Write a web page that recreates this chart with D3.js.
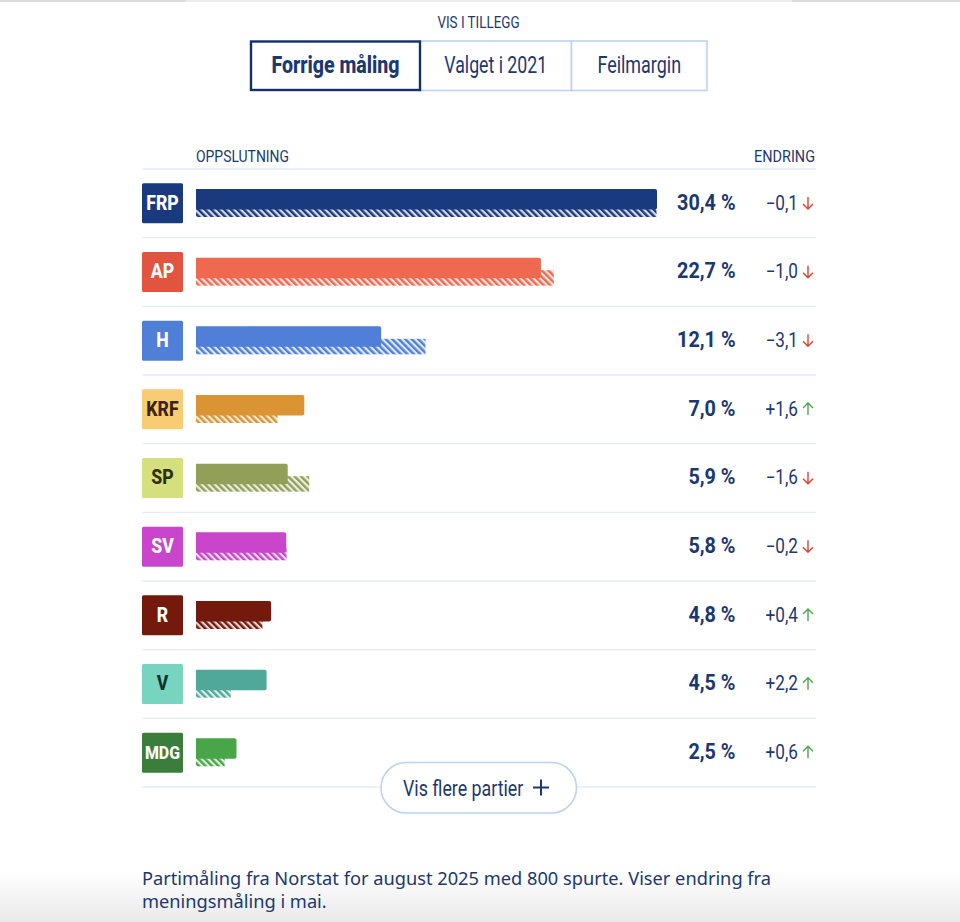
<!DOCTYPE html>
<html><head><meta charset="utf-8">
<script src="https://cdn.jsdelivr.net/npm/d3@7"></script>
<style>html,body{margin:0;padding:0;background:#fff}svg{display:block}</style></head>
<body><svg id="c" width="960" height="922"></svg>
<script>
const parties=["FRP","AP","H","KRF","SP","SV","R","V","MDG"];
const current=[30.4,22.7,12.1,7.0,5.9,5.8,4.8,4.5,2.5];
const previous=[30.5,23.7,15.2,5.4,7.5,6.0,4.4,2.3,1.9];
const changes=[-0.1,-1.0,-3.1,1.6,-1.6,-0.2,0.4,2.2,0.6];
const barColors=["#1a3a80","#ee694f","#4f7fd6","#db9433","#929f59","#c845cc","#731a0d","#4fa899","#48a548"];
const badgeColors=["#1a3a80","#e2543f","#4f7fd6","#f8cb75","#d5df7e","#c845cc","#731a0d","#76d4bf","#3b7d3a"];
const badgeText=["#fff","#fff","#fff","#3a2508","#2e3010","#fff","#fff","#12332c","#fff"];
const tabs=["Forrige måling","Valget i 2021","Feilmargin"];
const tabWidthScale=[.85,.77,.78];
const navy="#1b3870", rule="#e2ecfb", edge="#bcd3f3";
const condensed="Roboto, sans-serif";

const svg=d3.select("#c");
const defs=svg.append("defs");
const grad=defs.append("linearGradient").attr("id","fade").attr("x1",0).attr("x2",0).attr("y1",0).attr("y2",1);
grad.append("stop").attr("offset",0).attr("stop-color","#fff");
grad.append("stop").attr("offset",1).attr("stop-color","#e9e9e9");
svg.append("rect").attr("x",0).attr("y",872).attr("width",960).attr("height",50).attr("fill","url(#fade)");
svg.append("rect").attr("x",0).attr("y",0).attr("width",960).attr("height",2).attr("fill","#dcdcdc");
svg.append("rect").attr("x",186).attr("y",0).attr("width",606).attr("height",2).attr("fill","#ececec");

parties.forEach((p,i)=>{
  const pat=defs.append("pattern").attr("id","h"+p).attr("patternUnits","userSpaceOnUse")
    .attr("width",4.6).attr("height",4.6).attr("patternTransform","rotate(-45)");
  pat.append("rect").attr("width",4.6).attr("height",4.6).attr("fill",barColors[i]).attr("opacity",.18);
  pat.append("rect").attr("width",2.4).attr("height",4.6).attr("fill",barColors[i]);
});

function label(g,x,y,str,o){
  return g.append("text").attr("transform",`translate(${x},${y}) scale(${o.sx||0.84},1)`)
    .attr("text-anchor",o.anchor||"start").attr("font-family",o.font||condensed)
    .attr("font-size",o.size).attr("font-weight",o.weight||400).attr("fill",o.fill||navy).text(str);
}

// Tabs
const tabG=svg.append("g");
const tabEdges=[250,420,571.5,707];
tabs.forEach((t,i)=>{
  if(i>0) tabG.append("rect").attr("x",tabEdges[i]).attr("y",41).attr("width",tabEdges[i+1]-tabEdges[i]).attr("height",49.5)
    .attr("fill","#fff").attr("stroke",edge).attr("stroke-width",1.6);
});
tabG.append("rect").attr("x",tabEdges[0]+1).attr("y",41.5).attr("width",tabEdges[1]-tabEdges[0]-1).attr("height",48.5)
  .attr("fill","#fff").attr("stroke","#12306c").attr("stroke-width",2.4);
tabs.forEach((t,i)=>label(tabG,(tabEdges[i]+tabEdges[i+1])/2+(i==0?.5:0),73,t,{anchor:"middle",size:23,weight:i==0?800:400,sx:tabWidthScale[i]}));
label(svg,478.5,28,"VIS I TILLEGG",{anchor:"middle",size:17,sx:.79});

// Scales: the drawn bars keep a small minimum length at zero
const xCurrent=d3.scaleLinear().domain([0,30.4]).range([198.8,657]);
const xPrevious=d3.scaleLinear().domain([0,30.5]).range([196,656.5]);
const row=d3.scaleBand().domain(parties).range([169,787]);

label(svg,196,162,"OPPSLUTNING",{size:17,sx:.82});
label(svg,815,162,"ENDRING",{size:17,sx:.85,anchor:"end"});

svg.append("line").attr("x1",142).attr("x2",816).attr("y1",169).attr("y2",169).attr("stroke",rule).attr("stroke-width",1.4);

const fmt=v=>d3.format(".1f")(Math.abs(v)).replace(".",",");
const rows=svg.selectAll("g.row").data(parties).join("g").attr("class","row")
  .attr("transform",d=>`translate(0,${row(d)})`);

rows.append("line").attr("x1",142).attr("x2",816).attr("y1",row.step()).attr("y2",row.step()).attr("stroke",rule).attr("stroke-width",1.4);
rows.append("rect").attr("x",142).attr("y",14.3).attr("width",41).attr("height",40).attr("rx",1.5)
  .attr("fill",(d,i)=>badgeColors[i]);
rows.each(function(d,i){
  const g=d3.select(this);
  label(g,162.5,40.5,d,{anchor:"middle",size:d=="MDG"?19:21,weight:800,fill:badgeText[i],sx:.84});
  // previous measurement
  g.append("rect").attr("x",xPrevious(0)).attr("y",32.5).attr("width",xPrevious(previous[i])-xPrevious(0)).attr("height",15.5).attr("fill",`url(#h${d})`);
  // current measurement
  g.append("path").attr("fill",barColors[i]).attr("d",()=>{
    const l=xPrevious(0),r=xCurrent(current[i]),y0=20,y1=40.5,c=2;
    return `M${l},${y0}H${r-c}Q${r},${y0} ${r},${y0+c}V${y1-c}Q${r},${y1} ${r-c},${y1}H${l}Z`;
  });
  label(g,735.5,40.5,fmt(current[i])+" %",{anchor:"end",size:22,weight:700,sx:.9});
  label(g,798,40.5,(changes[i]<0?"\u2212":"+")+fmt(changes[i]),{anchor:"end",size:19.5,sx:.88});
  const up=changes[i]>0, col=up?"#4aa84f":"#e2402f", ax=808, top=28, bot=40;
  g.append("path").attr("fill","none").attr("stroke",col).attr("stroke-width",1.4)
    .attr("d",up?`M${ax},${bot}V${top}M${ax-5},${top+5}L${ax},${top}L${ax+5},${top+5}`
                :`M${ax},${top}V${bot}M${ax-5},${bot-5}L${ax},${bot}L${ax+5},${bot-5}`);
});

// Button
const btn=svg.append("g");
btn.append("rect").attr("x",381).attr("y",762.5).attr("width",195.5).attr("height",50.5).attr("rx",25.2)
  .attr("fill","#fff").attr("stroke",edge).attr("stroke-width",1.6);
label(btn,403,796,"Vis flere partier",{size:22,sx:.81});
btn.append("path").attr("stroke",navy).attr("stroke-width",2).attr("fill","none").attr("d","M533,787.5H549M541,779.5V795.5");

// Footnote
label(svg,142,885,"Partimåling fra Norstat for august 2025 med 800 spurte. Viser endring fra",{size:18.5,font:"'Noto Sans',sans-serif",sx:.986});
label(svg,142,908,"meningsmåling i mai.",{size:18.5,font:"'Noto Sans',sans-serif",sx:.986});
</script></body></html>
